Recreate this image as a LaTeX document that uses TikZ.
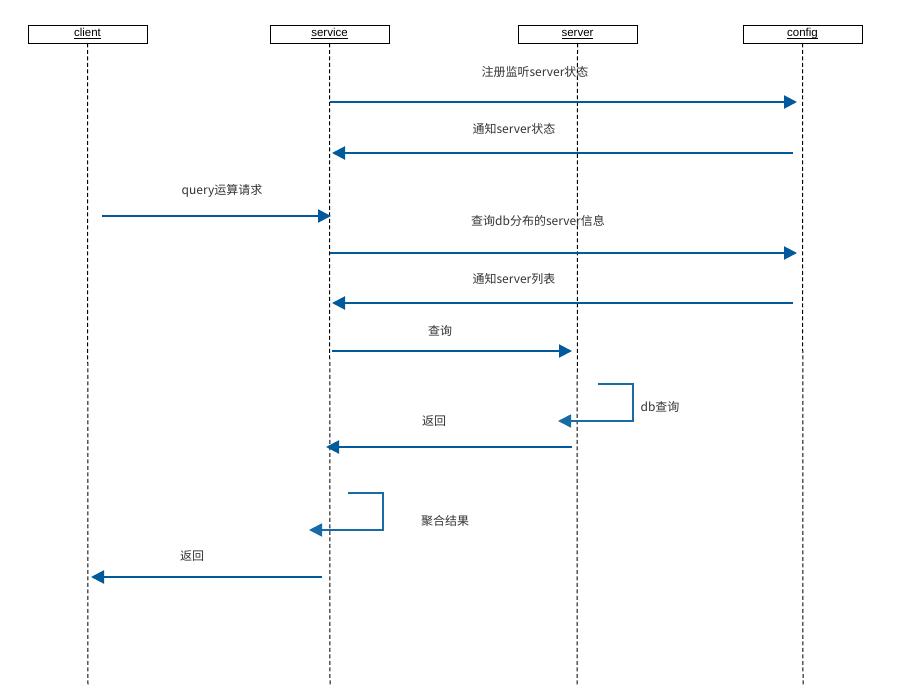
\documentclass[tikz,border=0pt]{standalone}
\usepackage{fontspec}
\setmainfont{Liberation Sans}
\newfontfamily\cjk{Noto Sans CJK SC}
\usetikzlibrary{arrows.meta}
\definecolor{msg}{RGB}{0,90,155}
\definecolor{txt}{RGB}{51,51,51}
\newcommand{\hdtxt}[1]{\raisebox{-3pt}{\underline{\raisebox{0pt}[8pt][0pt]{#1}}}}
\begin{document}
\begin{tikzpicture}[x=1pt,y=-1pt,
  head/.style={draw,line width=0.8pt,minimum width=119pt,minimum height=18pt,inner sep=0pt,font=\fontsize{11.5}{12}\selectfont},
  life/.style={line width=1pt,dash pattern=on 4pt off 2.5pt},
  msgline/.style={draw=msg,line width=2pt,-{Triangle[length=13pt,width=13pt]}},
  loopline/.style={draw=msg!90!white,line width=1.6pt,-{Triangle[length=13pt,width=13pt]}},
  lbl/.style={text=txt,font=\cjk\fontsize{12}{14}\selectfont,inner sep=1pt}]
\useasboundingbox (0,0) rectangle (902,685);
% heads
\node[head] (client) at (87.5,34) {\hdtxt{client}};
\node[head] (service) at (329.5,34) {\hdtxt{service}};
\node[head] (server) at (577.5,34) {\hdtxt{server}};
\node[head] (config) at (802.5,34) {\hdtxt{config}};
% lifelines
\coordinate (clientE) at (88,685);
\coordinate (serviceE) at (330,685);
\coordinate (serverE) at (577,685);
\coordinate (configE) at (803,685);
\draw[life] (client.south) -- (clientE);
\draw[life] (service.south) -- (serviceE);
\draw[life] (server.south) -- (serverE);
\draw[life] (config.south) -- (configE);
% message endpoints
\coordinate (m1a) at (330,102); \coordinate (m1b) at (797,102);
\coordinate (m2a) at (793,153); \coordinate (m2b) at (332,153);
\coordinate (m3a) at (102,216); \coordinate (m3b) at (331,216);
\coordinate (m4a) at (330,253); \coordinate (m4b) at (797,253);
\coordinate (m5a) at (793,303); \coordinate (m5b) at (332,303);
\coordinate (m6a) at (332,351); \coordinate (m6b) at (572,351);
\coordinate (m7a) at (598,384); \coordinate (m7c) at (633,384); \coordinate (m7d) at (633,421); \coordinate (m7b) at (558,421);
\coordinate (m8a) at (572,447); \coordinate (m8b) at (326,447);
\coordinate (m9a) at (348,493); \coordinate (m9c) at (383,493); \coordinate (m9d) at (383,530); \coordinate (m9b) at (309,530);
\coordinate (m10a) at (322,577); \coordinate (m10b) at (91,577);
\draw[msgline] (m1a) -- (m1b);
\draw[msgline] (m2a) -- (m2b);
\draw[msgline] (m3a) -- (m3b);
\draw[msgline] (m4a) -- (m4b);
\draw[msgline] (m5a) -- (m5b);
\draw[msgline] (m6a) -- (m6b);
\draw[loopline] (m7a) -- (m7c) -- (m7d) -- (m7b);
\draw[msgline] (m8a) -- (m8b);
\draw[loopline] (m9a) -- (m9c) -- (m9d) -- (m9b);
\draw[msgline] (m10a) -- (m10b);
% labels
\node[lbl] (l1) at (535,72) {注册监听server状态};
\node[lbl] (l2) at (514,129) {通知server状态};
\node[lbl] (l3) at (222,191) {query运算请求};
\node[lbl] (l4) at (538,221) {查询db分布的server信息};
\node[lbl] (l5) at (514,279) {通知server列表};
\node[lbl] (l6) at (440,331) {查询};
\node[lbl] (l7) at (660,407) {db查询};
\node[lbl] (l8) at (434,421) {返回};
\node[lbl] (l9) at (445,521) {聚合结果};
\node[lbl] (l10) at (192,556) {返回};
\end{tikzpicture}
\end{document}
